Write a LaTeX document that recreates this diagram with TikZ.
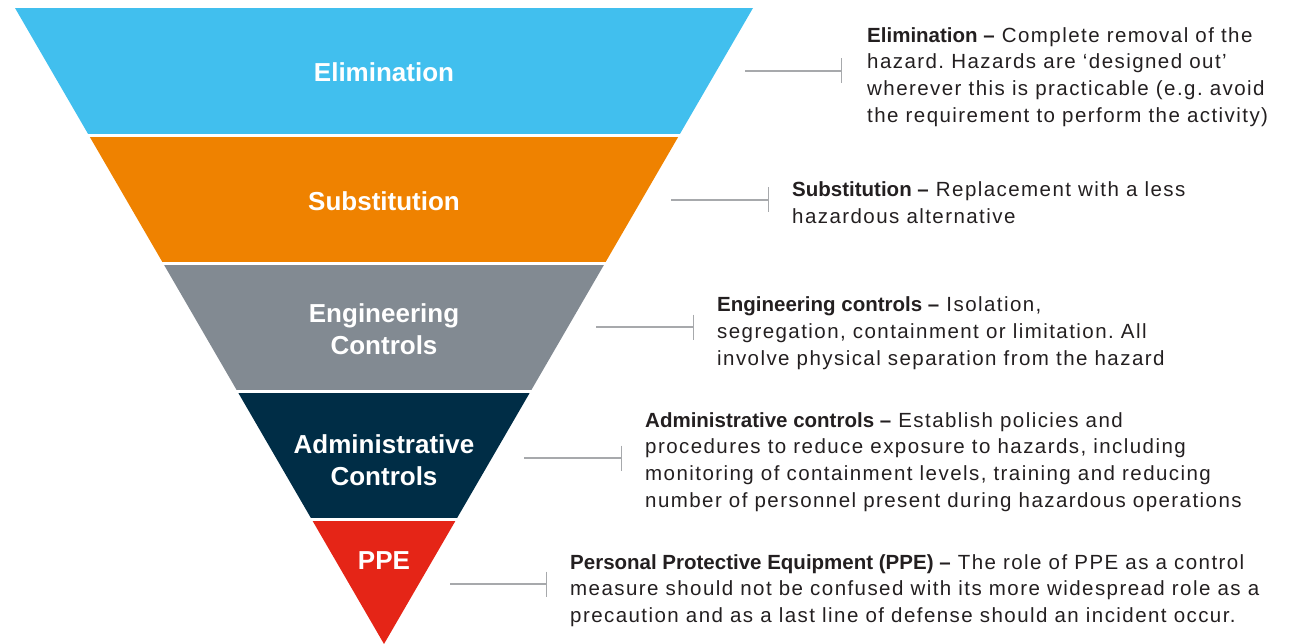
\documentclass[tikz,border=0pt]{standalone}
\usepackage{fontspec}
\setmainfont{Liberation Sans}
\newfontfamily\descfont[LetterSpace=7,BoldFeatures={LetterSpace=0}]{Liberation Sans}
\usetikzlibrary{arrows.meta}
\frenchspacing

\definecolor{elimblue}{HTML}{41BFEE}
\definecolor{subsorange}{HTML}{EF8200}
\definecolor{enggray}{HTML}{828A92}
\definecolor{adminnavy}{HTML}{002D46}
\definecolor{ppered}{HTML}{E52517}
\definecolor{linegray}{HTML}{A7A9AC}
\definecolor{desctext}{HTML}{231F20}

\begin{document}
\begin{tikzpicture}[x=1pt,y=-1pt,
    band/.style={text=white,align=center,font=\fontsize{26}{31.5}\selectfont\bfseries},
    desc/.style={anchor=west,inner sep=0pt,align=left,text=desctext,
      font=\descfont\fontsize{20.5}{26.7}\selectfont},
    conn/.style={draw=linegray,line width=1.4pt,-{Bar[width=25pt,line width=1.4pt]}}]
    \useasboundingbox (0,0) rectangle (1292,644);

    % the inverted triangle, cut into five bands
    \begin{scope}
        \clip (15,8) -- (753,8) -- (384,644) -- cycle;
        \fill[elimblue] (0,8) rectangle (800,134);
        \fill[subsorange] (0,137) rectangle (800,262);
        \fill[enggray] (0,265) rectangle (800,390);
        \fill[adminnavy] (0,393) rectangle (800,518);
        \fill[ppered] (0,521) rectangle (800,650);
    \end{scope}

    \node[band] (elim) at (384,72) {Elimination};
    \node[band] (subs) at (384,201) {Substitution};
    \node[band] (eng) at (384,329) {Engineering\\Controls};
    \node[band] (admin) at (384,460) {Administrative\\Controls};
    \node[band] (ppe) at (384,561) {PPE};

    \node[desc] (elimdesc) at (867,77) {\textbf{Elimination –} Complete removal of the\\hazard. Hazards are ‘designed out’\\wherever this is practicable (e.g. avoid\\the requirement to perform the activity)};
    \node[desc] (subsdesc) at (792,203) {\textbf{Substitution –} Replacement with a less\\hazardous alternative};
    \node[desc] (engdesc) at (717,333) {\textbf{Engineering controls –} Isolation,\\segregation, containment or limitation. All\\involve physical separation from the hazard};
    \node[desc] (admindesc) at (645,462) {\textbf{Administrative controls –} Establish policies and\\procedures to reduce exposure to hazards, including\\monitoring of containment levels, training and reducing\\number of personnel present during hazardous operations};
    \node[desc] (ppedesc) at (570,590.5) {\textbf{Personal Protective Equipment (PPE) –} The role of PPE as a control\\measure should not be confused with its more widespread role as a\\precaution and as a last line of defense should an incident occur.};

    \coordinate (elimc) at (745,71);
    \coordinate (subsc) at (671,200);
    \coordinate (engc) at (596,327);
    \coordinate (adminc) at (524,458);
    \coordinate (ppec) at (450,584);

    \draw[conn] (elimc) -- ([xshift=-25pt]elimdesc.west |- elimc);
    \draw[conn] (subsc) -- ([xshift=-23pt]subsdesc.west |- subsc);
    \draw[conn] (engc) -- ([xshift=-23pt]engdesc.west |- engc);
    \draw[conn] (adminc) -- ([xshift=-23pt]admindesc.west |- adminc);
    \draw[conn] (ppec) -- ([xshift=-23pt]ppedesc.west |- ppec);
\end{tikzpicture}
\end{document}
